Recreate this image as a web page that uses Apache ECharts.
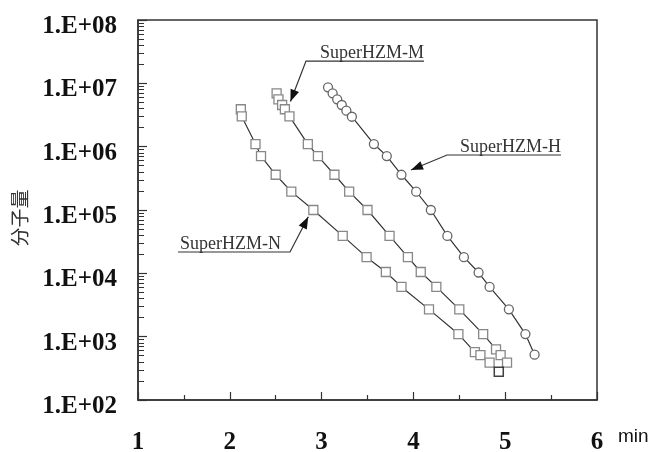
<!DOCTYPE html>
<html>
<head>
<meta charset="utf-8">
<script src="https://cdn.jsdelivr.net/npm/echarts@6/dist/echarts.min.js"></script>
<style>
  html, body { margin: 0; padding: 0; background: #fff; }
  #main { width: 654px; height: 452px; }
</style>
</head>
<body>
<div id="main"></div>
<script>
// 数据 (min, 分子量)
var nTime = [2.12, 2.13, 2.28, 2.34, 2.50, 2.67, 2.91, 3.23, 3.49, 3.70, 3.87, 4.17, 4.49, 4.67, 4.73, 4.83];
var nMw = [3.9e6, 3.0e6, 1.1e6, 7.1e5, 3.6e5, 1.95e5, 1.0e5, 3.9e4, 1.8e4, 1.05e4, 6.1e3, 2.7e3, 1.1e3, 570, 510, 390];

var mTime = [2.51, 2.53, 2.57, 2.60, 2.65, 2.85, 2.96, 3.14, 3.30, 3.50, 3.74, 3.94, 4.08, 4.25, 4.50, 4.76, 4.90, 4.95, 5.02];
var mMw = [6.96e6, 5.6e6, 4.55e6, 3.9e6, 3.0e6, 1.1e6, 7.1e5, 3.6e5, 1.95e5, 1.0e5, 3.9e4, 1.8e4, 1.05e4, 6.1e3, 2.7e3, 1.1e3, 630, 510, 390];

var hTime = [3.07, 3.12, 3.17, 3.22, 3.27, 3.33, 3.57, 3.71, 3.87, 4.03, 4.19, 4.37, 4.55, 4.71, 4.83, 5.04, 5.22, 5.32];
var hMw = [8.65e6, 6.96e6, 5.6e6, 4.55e6, 3.7e6, 2.97e6, 1.1e6, 7.1e5, 3.6e5, 1.95e5, 1.0e5, 3.9e4, 1.8e4, 1.03e4, 6.1e3, 2.7e3, 1.1e3, 520];

var extraTime = [4.93];
var extraMw = [280];

var seriesNames = ['SuperHZM-N', 'SuperHZM-M', 'SuperHZM-H'];
var xTicks = [1, 2, 3, 4, 5, 6];

// 对数次刻度 2..9
var minorLog = [];
for (var d = 2; d < 8; d++) {
  for (var k = 2; k <= 9; k++) minorLog.push(d + Math.log10(k));
}

function pairs(xs, ys) {
  var out = [];
  for (var i = 0; i < xs.length; i++) out.push([xs[i], ys[i]]);
  return out;
}

var serif = '"Liberation Serif", "Times New Roman", serif';

var lineSeries = function (name, xs, ys, symbol, border) {
  return {
    name: name,
    type: 'line',
    data: pairs(xs, ys),
    symbol: symbol,
    symbolSize: 9,
    showSymbol: true,
    lineStyle: { color: '#333', width: 1.2 },
    itemStyle: { color: '#fff', borderColor: border, borderWidth: 1.3 },
    z: 3
  };
};

var option = {
  backgroundColor: '#fff',
  animation: false,
  grid: {
    left: 138, right: 57, top: 20, bottom: 52,
    outerBoundsMode: 'none',
    containLabel: false,
    show: true, borderColor: '#333', borderWidth: 1.5, backgroundColor: 'transparent'
  },
  xAxis: {
    type: 'value',
    min: 1, max: 6, interval: 1,
    axisLine: { lineStyle: { color: '#333', width: 1.5 } },
    axisTick: { inside: true, length: 8, lineStyle: { color: '#333', width: 1.2 } },
    minorTick: { show: true, splitNumber: 2, length: 5, lineStyle: { color: '#333', width: 1.2 } },
    splitLine: { show: false },
    axisLabel: {
      margin: 30,
      fontFamily: serif, fontWeight: 'bold', fontSize: 25, color: '#111',
      formatter: function (v) { return xTicks.indexOf(v) >= 0 ? String(v) : ''; }
    }
  },
  yAxis: [{
    type: 'log',
    logBase: 10,
    min: 100, max: 1e8,
    splitNumber: 6,
    name: '分子量',
    nameLocation: 'middle',
    nameRotate: 90,
    nameGap: 109,
    nameTextStyle: { fontFamily: '"Noto Sans CJK SC", sans-serif', fontSize: 19, color: '#333', padding: [0, 16, 0, 0] },
    axisLine: { lineStyle: { color: '#333', width: 1.5 } },
    axisTick: { inside: true, length: 9, lineStyle: { color: '#333', width: 1.2 } },
    splitLine: { show: false },
    axisLabel: {
      margin: 21,
      verticalAlign: 'top',
      lineHeight: 13,
      fontFamily: serif, fontWeight: 'bold', fontSize: 25, color: '#111',
      formatter: function (v) {
        var e = Math.round(Math.log10(v));
        return '1.E+' + (e < 10 ? '0' : '') + e;
      }
    }
  }, {
    // 只画次刻度
    type: 'value',
    position: 'left',
    min: 2, max: 8,
    axisLine: { show: false },
    axisLabel: { show: false },
    splitLine: { show: false },
    axisTick: { show: true, inside: true, length: 6, customValues: minorLog, lineStyle: { color: '#333', width: 1 } }
  }],
  series: [
    lineSeries(seriesNames[0], nTime, nMw, 'rect', '#888'),
    lineSeries(seriesNames[1], mTime, mMw, 'rect', '#888'),
    lineSeries(seriesNames[2], hTime, hMw, 'circle', '#666'),
    {
      type: 'scatter',
      data: pairs(extraTime, extraMw),
      symbol: 'rect',
      symbolSize: 9,
      itemStyle: { color: '#fff', borderColor: '#111', borderWidth: 1.5 },
      z: 4
    }
  ]
};

var chart = echarts.init(document.getElementById('main'), null, { renderer: 'canvas' });
chart.setOption(option);

// 标注: 箭头尖, 折点, 下划线另一端 (数据坐标)
var notes = [
  { text: seriesNames[0], tip: [2.855, 7.8e4], elbow: [2.656, 2.17e4], endX: 1.436, align: 'left' },
  { text: seriesNames[1], tip: [2.661, 5.16e6], elbow: [2.83, 2.25e7], endX: 4.115, align: 'right' },
  { text: seriesNames[2], tip: [3.974, 4.28e5], elbow: [4.366, 7.38e5], endX: 5.608, align: 'right' }
];

var graphics = [];
notes.forEach(function (n) {
  var tip = chart.convertToPixel({ gridIndex: 0 }, n.tip);
  var elbow = chart.convertToPixel({ gridIndex: 0 }, n.elbow);
  var endPt = chart.convertToPixel({ gridIndex: 0 }, [n.endX, n.elbow[1]]);
  graphics.push({
    type: 'polyline',
    shape: { points: [endPt, elbow, tip] },
    style: { stroke: '#333', lineWidth: 1.2, fill: null },
    z: 10
  });
  // 箭头
  var dx = tip[0] - elbow[0], dy = tip[1] - elbow[1];
  var len = Math.sqrt(dx * dx + dy * dy);
  var ux = dx / len, uy = dy / len;
  var bx = tip[0] - ux * 12, by = tip[1] - uy * 12;
  graphics.push({
    type: 'polygon',
    shape: { points: [tip, [bx - uy * 4.5, by + ux * 4.5], [bx + uy * 4.5, by - ux * 4.5]] },
    style: { fill: '#111' },
    z: 10
  });
  var tx = n.align === 'left' ? Math.min(endPt[0], elbow[0]) + 2 : Math.max(endPt[0], elbow[0]);
  graphics.push({
    type: 'text',
    x: tx,
    y: elbow[1] + 1,
    style: {
      text: n.text,
      fill: '#333',
      font: '18px "Liberation Serif", "Times New Roman", serif',
      align: n.align,
      verticalAlign: 'bottom'
    },
    z: 10
  });
});

// x 轴单位 min
var axisEnd = chart.convertToPixel({ gridIndex: 0 }, [6, 100]);
graphics.push({
  type: 'text',
  x: axisEnd[0] + 21,
  y: axisEnd[1] + 37,
  style: {
    text: 'min',
    fill: '#111',
    font: '19px "Liberation Sans", Arial, sans-serif',
    align: 'left',
    verticalAlign: 'middle'
  },
  z: 10
});
chart.setOption({ graphic: graphics });
</script>
</body>
</html>
